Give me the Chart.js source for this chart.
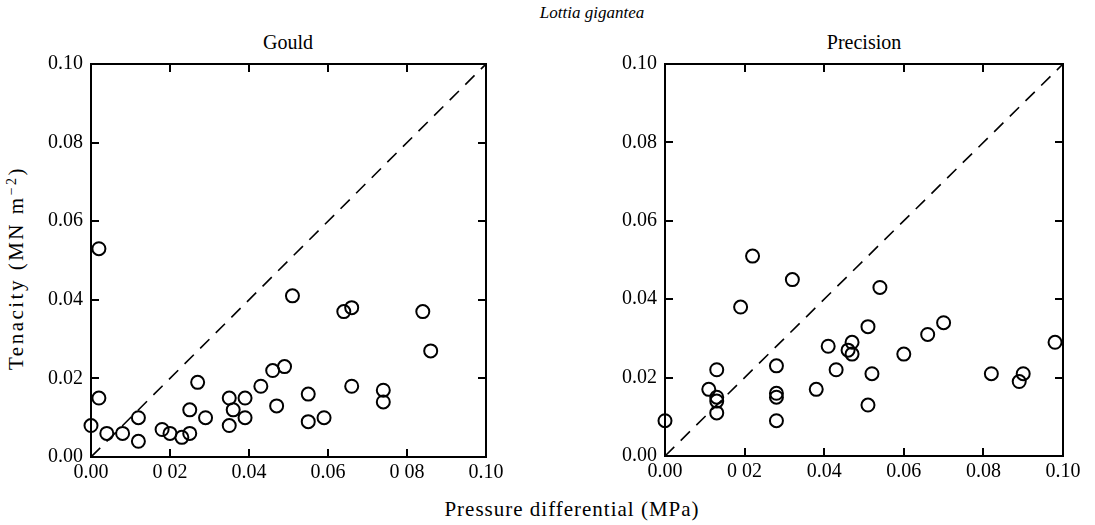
<!DOCTYPE html>
<html>
<head>
<meta charset="utf-8">
<script src="https://cdn.jsdelivr.net/npm/chart.js@4/dist/chart.umd.min.js"></script>
<style>
  body { margin: 0; background: #fff; width: 1095px; height: 525px; position: relative; overflow: hidden; font-family: "Times New Roman", "Liberation Serif", "DejaVu Serif", serif; color: #000; }
  canvas { position: absolute; top: 0; }
  .txt { position: absolute; white-space: nowrap; transform: translate(-50%, -50%); }
</style>
</head>
<body>
<div class="txt" style="left:592px; top:13px; font-size:17px; font-style:italic;">Lottia gigantea</div>
<div class="txt" style="left:288px; top:42px; font-size:20px;">Gould</div>
<div class="txt" style="left:864px; top:42px; font-size:20px;">Precision</div>
<div class="txt" style="left:572px; top:509px; font-size:21px; letter-spacing:1px;">Pressure differential (MPa)</div>
<div class="txt" style="left:16px; top:268px; font-size:21px; letter-spacing:2.5px; transform: translate(-50%, -50%) rotate(-90deg);">Tenacity (MN m<sup style="font-size:14px; vertical-align:7px;">−2</sup>)</div>
<canvas id="gould" width="545" height="525" style="left:0px"></canvas>
<canvas id="precision" width="550" height="525" style="left:545px"></canvas>
<script>
// values (MPa vs MN m-2)
const gouldX = [0.002, 0.002, 0.000, 0.004, 0.008, 0.012, 0.012, 0.018, 0.020, 0.023, 0.025, 0.025,
                0.027, 0.029, 0.035, 0.035, 0.036, 0.039, 0.039, 0.043, 0.046, 0.047, 0.049, 0.051,
                0.055, 0.055, 0.059, 0.064, 0.066, 0.066, 0.074, 0.074, 0.084, 0.086];
const gouldY = [0.053, 0.015, 0.008, 0.006, 0.006, 0.010, 0.004, 0.007, 0.006, 0.005, 0.006, 0.012,
                0.019, 0.010, 0.015, 0.008, 0.012, 0.015, 0.010, 0.018, 0.022, 0.013, 0.023, 0.041,
                0.016, 0.009, 0.010, 0.037, 0.038, 0.018, 0.017, 0.014, 0.037, 0.027];

const precisionX = [0.000, 0.011, 0.013, 0.013, 0.013, 0.013, 0.019, 0.022, 0.028, 0.028, 0.028, 0.028,
                    0.032, 0.038, 0.041, 0.043, 0.046, 0.047, 0.047, 0.051, 0.051, 0.052, 0.054, 0.060,
                    0.066, 0.070, 0.082, 0.089, 0.090, 0.098];
const precisionY = [0.009, 0.017, 0.022, 0.015, 0.014, 0.011, 0.038, 0.051, 0.023, 0.016, 0.015, 0.009,
                    0.045, 0.017, 0.028, 0.022, 0.027, 0.029, 0.026, 0.033, 0.013, 0.021, 0.043, 0.026,
                    0.031, 0.034, 0.021, 0.019, 0.021, 0.029];

const yTickLabels = ['0.00', '0.02', '0.04', '0.06', '0.08', '0.10'];
const gouldXTickLabels = ['0.00', '0 02', '0.04', '0.06', '0 08', '0.10'];
const precisionXTickLabels = ['0.00', '0 02', '0.04', '0.06', '0.08', '0.10'];
const diagonal = [0, 0.1];

const serif = '"Times New Roman", "Liberation Serif", "DejaVu Serif", serif';
Chart.defaults.font.family = serif;
Chart.defaults.font.size = 20;
Chart.defaults.color = '#000';

// frame round the plot with inward ticks on all four sides
const framePlugin = {
  id: 'frame',
  afterDraw(chart) {
    const ctx = chart.ctx, a = chart.chartArea;
    const xs = chart.scales.x, ys = chart.scales.y;
    ctx.save();
    ctx.strokeStyle = '#000';
    ctx.lineWidth = 2;
    ctx.strokeRect(a.left, a.top, a.right - a.left, a.bottom - a.top);
    const len = 8;
    ctx.beginPath();
    xs.ticks.forEach((t, i) => {
      if (i === 0 || i === xs.ticks.length - 1) return;
      const px = Math.round(xs.getPixelForValue(t.value));
      ctx.moveTo(px, a.bottom); ctx.lineTo(px, a.bottom - len);
      ctx.moveTo(px, a.top); ctx.lineTo(px, a.top + len);
    });
    ys.ticks.forEach((t, i) => {
      if (i === 0 || i === ys.ticks.length - 1) return;
      const py = Math.round(ys.getPixelForValue(t.value));
      ctx.moveTo(a.left, py); ctx.lineTo(a.left + len, py);
      ctx.moveTo(a.right, py); ctx.lineTo(a.right - len, py);
    });
    ctx.stroke();
    ctx.restore();
  }
};

function makeChart(id, xs, ys, xLabels, opts) {
  const pts = xs.map((x, i) => ({ x: x, y: ys[i] }));
  return new Chart(document.getElementById(id), {
    type: 'scatter',
    data: {
      datasets: [
        {
          data: pts,
          pointRadius: 6.5,
          pointHoverRadius: 6.5,
          pointBorderWidth: 2,
          borderColor: '#000',
          backgroundColor: 'rgba(0,0,0,0)',
          clip: false
        },
        {
          type: 'line',
          data: diagonal.map(v => ({ x: v, y: v })),
          borderColor: '#000',
          borderWidth: 1.6,
          borderDash: [13, 9],
          pointRadius: 0,
          fill: false
        }
      ]
    },
    options: {
      responsive: false,
      animation: false,
      layout: { padding: { left: 0, right: opts.padRight, top: 64, bottom: 0 } },
      plugins: { legend: { display: false }, tooltip: { enabled: false } },
      scales: {
        x: {
          type: 'linear', min: 0, max: 0.1,
          grid: { display: false, drawTicks: false },
          border: { display: false },
          ticks: {
            stepSize: 0.02, padding: 4, color: '#000',
            font: { family: serif, size: 20 },
            maxRotation: 0, autoSkip: false,
            callback: (v, i) => xLabels[i]
          },
          afterFit: s => { s.height = opts.xHeight; }
        },
        y: {
          type: 'linear', min: 0, max: 0.1,
          grid: { display: false, drawTicks: false },
          border: { display: false },
          ticks: {
            stepSize: 0.02, padding: 8, color: '#000',
            font: { family: serif, size: 20 },
            autoSkip: false,
            callback: (v, i) => yTickLabels[i]
          },
          afterFit: s => { s.width = opts.yWidth; }
        }
      }
    },
    plugins: [framePlugin]
  });
}

makeChart('gould', gouldX, gouldY, gouldXTickLabels, { padRight: 59, xHeight: 68, yWidth: 91 });
makeChart('precision', precisionX, precisionY, precisionXTickLabels, { padRight: 32, xHeight: 69, yWidth: 120 });
</script>
</body>
</html>
